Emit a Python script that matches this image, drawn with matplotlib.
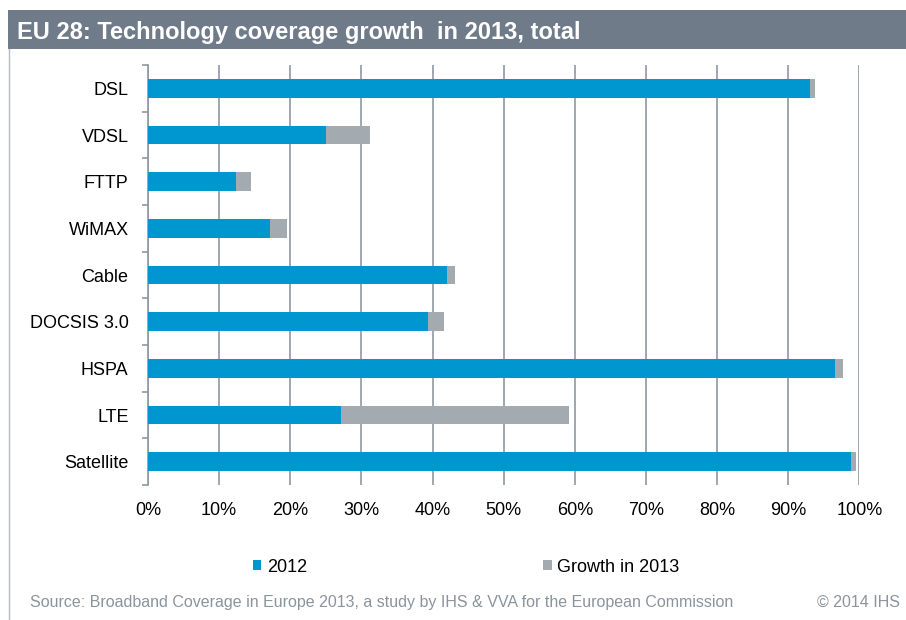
import numpy as np
import matplotlib.pyplot as plt
from matplotlib.patches import Rectangle, Patch
from matplotlib.lines import Line2D

plt.rcParams['font.family'] = ['Liberation Sans', 'DejaVu Sans']

# ---- data (percent coverage) ----
categories = ['DSL', 'VDSL', 'FTTP', 'WiMAX', 'Cable', 'DOCSIS 3.0', 'HSPA', 'LTE', 'Satellite']
cov_2012 = [93.0, 25.0, 12.4, 17.1, 42.0, 39.3, 96.5, 27.1, 98.8]
growth_2013 = [0.7, 6.2, 2.1, 2.5, 1.1, 2.3, 1.2, 32.1, 0.7]
xticks = [0, 10, 20, 30, 40, 50, 60, 70, 80, 90, 100]

C_BLUE = '#0097D1'
C_GROWTH = '#A3ABB1'
C_GRID = '#8E98A3'
C_BAND = '#6F7B89'
C_SRC = '#8A949D'

W, H = 906, 620
fig = plt.figure(figsize=(W / 100, H / 100), dpi=100)
fig.patch.set_facecolor('white')

# title band
fig.patches.append(Rectangle((8 / W, 1 - 49 / H), 1, 39 / H, transform=fig.transFigure,
                             facecolor=C_BAND, edgecolor='none'))
fig.text(17 / W, 1 - 32 / H, 'EU 28: Technology coverage growth  in 2013, total',
         color='white', fontsize=17, fontweight='bold', va='center', ha='left')
# left frame line
fig.add_artist(Line2D([8.5 / W, 8.5 / W], [0, 1 - 49 / H], transform=fig.transFigure,
                      color='#B5BCC4', lw=1))

ax = fig.add_axes([148 / W, 1 - 485 / H, (859.5 - 148) / W, (485 - 65) / H])
y = np.arange(len(categories))
ax.barh(y, cov_2012, height=0.4, color=C_BLUE, label='2012', zorder=3)
ax.barh(y, growth_2013, left=cov_2012, height=0.4, color=C_GROWTH,
        label='Growth in 2013', zorder=3)

ax.set_xlim(0, 100)
ax.set_ylim(len(categories) - 0.5, -0.5)
ax.set_xticks(xticks)
ax.set_xticklabels([f'{v}%' for v in xticks], fontsize=13)
ax.tick_params(axis='x', length=0, pad=12)
ax.xaxis.grid(True, color=C_GRID, lw=1.2, zorder=1)

# category labels + small separator ticks between categories
ax.set_yticks(y)
ax.set_yticklabels(categories, fontsize=13)
ax.set_yticks(np.arange(-0.5, len(categories), 1), minor=True)
ax.tick_params(axis='y', which='major', length=0, pad=14)
ax.tick_params(axis='y', which='minor', length=4, color=C_GRID, width=1.2)

for s in ['top', 'right', 'bottom']:
    ax.spines[s].set_visible(False)
ax.spines['left'].set_color(C_GRID)
ax.spines['left'].set_linewidth(1.2)

# legend
handles = [Patch(facecolor=C_BLUE), Patch(facecolor=C_GROWTH)]
fig.legend(handles, ['2012', 'Growth in 2013'], ncol=2, frameon=False,
           loc='center left', bbox_to_anchor=(246 / W, 1 - 567 / H),
           fontsize=13, handlelength=0.45, handleheight=0.45,
           handletextpad=0.3, columnspacing=13.1, borderaxespad=0)

fig.text(30 / W, 1 - 602 / H,
         'Source: Broadband Coverage in Europe 2013, a study by IHS & VVA for the European Commission',
         color=C_SRC, fontsize=11.5, va='center', ha='left')
fig.text(900 / W, 1 - 602 / H, '\u00a9 2014 IHS', color=C_SRC, fontsize=11.5,
         va='center', ha='right')

fig.savefig('out.png', dpi=100, facecolor='white')
